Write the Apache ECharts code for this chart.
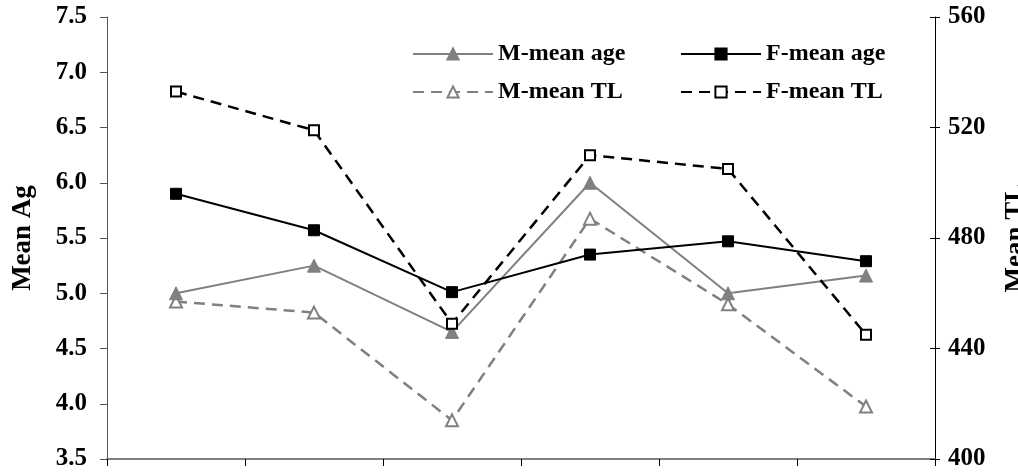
<!DOCTYPE html>
<html>
<head>
<meta charset="utf-8">
<script src="https://cdn.jsdelivr.net/npm/echarts@6/dist/echarts.min.js"></script>
<style>
  html, body { margin: 0; padding: 0; background: #fff; }
  #chart { width: 1018px; height: 476px; }
</style>
</head>
<body>
<div id="chart"></div>
<script>
// Six sampling groups along the category axis (unlabelled)
const categories = ['1', '2', '3', '4', '5', '6'];

// Mean age (years), left axis
const maleMeanAge   = [5.00, 5.25, 4.65, 6.00, 5.00, 5.16];
const femaleMeanAge = [5.90, 5.57, 5.01, 5.35, 5.47, 5.29];

// Mean total length (mm), right axis
const maleMeanTL   = [457, 453, 414, 487, 456, 419];
const femaleMeanTL = [533, 519, 449, 510, 505, 445];

const FONT = '"Liberation Serif", "Times New Roman", serif';
const GREY = '#808080';

const chart = echarts.init(document.getElementById('chart'), null, { renderer: 'canvas' });

const legendText = { fontFamily: FONT, fontWeight: 'bold', fontSize: 24, color: '#000', lineHeight: 24 };

chart.setOption({
  backgroundColor: '#fff',
  animation: false,
  grid: { left: 107, right: 83, top: 17, bottom: 17, containLabel: false, outerBoundsMode: 'none' },
  legend: [
    {
      data: ['M-mean age', 'M-mean TL'],
      orient: 'vertical', left: 407, top: 37,
      itemWidth: 80, itemHeight: 14, itemGap: 14,
      textStyle: legendText
    },
    {
      data: ['F-mean age', 'F-mean TL'],
      orient: 'vertical', left: 675, top: 37,
      itemWidth: 80, itemHeight: 14, itemGap: 14,
      textStyle: legendText
    }
  ],
  xAxis: {
    type: 'category',
    data: categories,
    boundaryGap: true,
    axisLine: { lineStyle: { color: GREY, width: 2 } },
    axisTick: { show: true, length: 7, lineStyle: { color: '#000', width: 1 } },
    axisLabel: { show: false },
    splitLine: { show: false }
  },
  yAxis: [
    {
      type: 'value',
      min: 3.5, max: 7.5, interval: 0.5,
      position: 'left',
      name: 'Mean Age',
      nameLocation: 'middle',
      nameRotate: 90,
      nameGap: 70,
      nameTruncate: { maxWidth: 112, ellipsis: '' },
      nameTextStyle: { fontFamily: FONT, fontWeight: 'bold', fontSize: 27, color: '#000' },
      axisLine: { show: true, lineStyle: { color: '#555', width: 1 } },
      axisTick: { show: true, inside: false, length: 7, lineStyle: { color: '#555' } },
      axisLabel: {
        margin: 20,
        fontFamily: FONT, fontWeight: 'bold', fontSize: 25, color: '#000',
        formatter: v => v.toFixed(1)
      },
      splitLine: { show: false }
    },
    {
      type: 'value',
      min: 400, max: 560, interval: 40,
      position: 'right',
      name: 'Mean TL',
      nameLocation: 'middle',
      nameRotate: 90,
      nameGap: 68,
      nameTextStyle: { fontFamily: FONT, fontWeight: 'bold', fontSize: 27, color: '#000' },
      axisLine: { show: true, lineStyle: { color: '#000', width: 1 } },
      axisTick: { show: true, inside: false, length: 5, lineStyle: { color: '#000' } },
      axisLabel: {
        margin: 13,
        fontFamily: FONT, fontWeight: 'bold', fontSize: 25, color: '#000'
      },
      splitLine: { show: false }
    },
    {
      // inner half of the crossing ticks on the right axis
      type: 'value',
      min: 400, max: 560, interval: 40,
      position: 'right',
      axisLine: { show: false },
      axisTick: { show: true, inside: true, length: 5, lineStyle: { color: '#000' } },
      axisLabel: { show: false },
      splitLine: { show: false }
    }
  ],
  series: [
    {
      name: 'M-mean age',
      type: 'line',
      yAxisIndex: 0,
      data: maleMeanAge,
      symbol: 'triangle',
      symbolSize: 13,
      itemStyle: { color: GREY, borderColor: GREY, borderWidth: 1 },
      lineStyle: { color: GREY, width: 2, type: 'solid' },
      z: 3
    },
    {
      name: 'F-mean age',
      type: 'line',
      yAxisIndex: 0,
      data: femaleMeanAge,
      symbol: 'rect',
      symbolSize: 11,
      itemStyle: { color: '#000', borderColor: '#000', borderWidth: 1 },
      lineStyle: { color: '#000', width: 2, type: 'solid' },
      z: 4
    },
    {
      name: 'M-mean TL',
      type: 'line',
      yAxisIndex: 1,
      data: maleMeanTL,
      symbol: 'triangle',
      symbolSize: 12,
      itemStyle: { color: '#fff', borderColor: GREY, borderWidth: 2 },
      lineStyle: { color: GREY, width: 2.5, type: [11, 7] },
      z: 2
    },
    {
      name: 'F-mean TL',
      type: 'line',
      yAxisIndex: 1,
      data: femaleMeanTL,
      symbol: 'rect',
      symbolSize: 10,
      itemStyle: { color: '#fff', borderColor: '#000', borderWidth: 2 },
      lineStyle: { color: '#000', width: 2.5, type: [11, 7] },
      z: 5
    }
  ]
});
</script>
</body>
</html>
